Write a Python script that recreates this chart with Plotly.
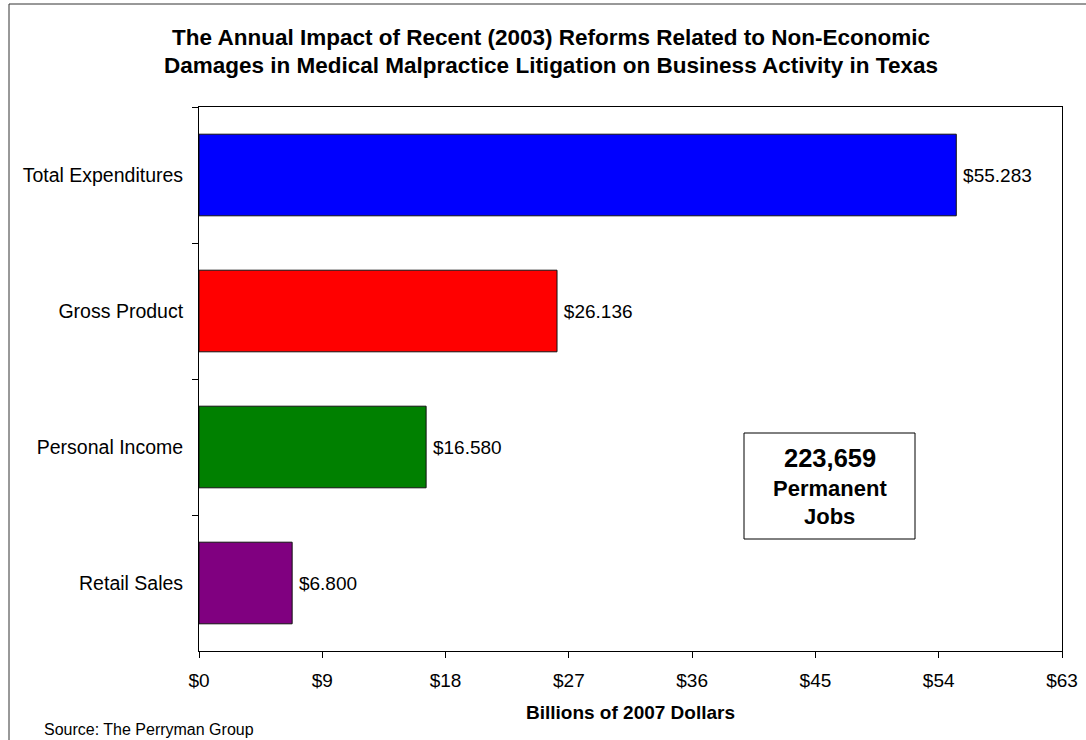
import plotly.graph_objects as go

# Business activity gains (billions of 2007 dollars)
categories = ["Total Expenditures", "Gross Product", "Personal Income", "Retail Sales"]
values = [55.283, 26.136, 16.580, 6.800]
bar_colors = ["#0000FF", "#FF0000", "#008000", "#800080"]
x_ticks = [0, 9, 18, 27, 36, 45, 54, 63]
x_tick_labels = [f"${v}" for v in x_ticks]
jobs = "223,659"

FONT = "Arial, Liberation Sans, sans-serif"

fig = go.Figure(
    go.Bar(
        y=categories,
        x=values,
        orientation="h",
        marker=dict(color=bar_colors, line=dict(color="#111111", width=1)),
        width=0.6,
        texttemplate="\u2009$%{x:.3f}",
        textposition="outside",
        textfont=dict(family=FONT, size=19, color="#000000"),
        cliponaxis=False,
        hoverinfo="skip",
    )
)

W, H = 1086, 740
L, R, T, B = 199, 24, 107, 89
pw, ph = W - L - R, H - T - B


def px_x(px):
    return (px - L) / pw


def px_y(py):
    return (H - B - py) / ph


fig.update_layout(
    width=W,
    height=H,
    margin=dict(l=L, r=R, t=T, b=B, pad=0, autoexpand=False),
    paper_bgcolor="#FFFFFF",
    plot_bgcolor="#FFFFFF",
    font=dict(family=FONT, size=19, color="#000000"),
    showlegend=False,
    xaxis=dict(
        range=[0, 63],
        tickmode="array",
        tickvals=x_ticks,
        ticktext=x_tick_labels,
        ticks="outside",
        ticklen=6,
        tickcolor="#000000",
        showline=True,
        linecolor="#000000",
        linewidth=1,
        mirror=True,
        showgrid=False,
        zeroline=False,
        automargin=False,
        tickfont=dict(size=19),
        ticklabelstandoff=6,
        title=dict(text="<b>Billions of 2007 Dollars</b>", font=dict(size=19), standoff=15),
    ),
    yaxis=dict(
        categoryorder="array",
        categoryarray=categories,
        autorange="reversed",
        tickson="boundaries",
        ticks="outside",
        ticklen=6,
        tickcolor="#000000",
        showline=True,
        linecolor="#000000",
        linewidth=1,
        mirror=True,
        showgrid=False,
        zeroline=False,
        automargin=False,
        tickfont=dict(size=19.5),
        ticklabelstandoff=11,
    ),
)

# Chart title (two lines)
title_lines = [
    "The Annual Impact of Recent (2003) Reforms Related to Non-Economic",
    "Damages in Medical Malpractice Litigation on Business Activity in Texas",
]
for line, py in zip(title_lines, [37, 65]):
    fig.add_annotation(
        text=f"<b>{line}</b>", xref="paper", yref="paper",
        x=px_x(551), y=px_y(py), xanchor="center", yanchor="middle",
        showarrow=False, font=dict(size=22.5),
    )

# Source note
fig.add_annotation(
    text="Source: The Perryman Group", xref="paper", yref="paper",
    x=px_x(42), y=px_y(729), xanchor="left", yanchor="middle",
    showarrow=False, font=dict(size=16),
)

# Jobs call-out box
fig.add_shape(
    type="rect", xref="paper", yref="paper",
    x0=px_x(744), x1=px_x(915), y0=px_y(539), y1=px_y(433),
    line=dict(color="#000000", width=1), fillcolor="#FFFFFF",
)
for txt, py, sz in [(jobs, 458, 25.5), ("Permanent", 488, 22), ("Jobs", 516, 22)]:
    fig.add_annotation(
        text=f"<b>{txt}</b>", xref="paper", yref="paper",
        x=px_x(829.5), y=px_y(py), xanchor="center", yanchor="middle",
        showarrow=False, font=dict(size=sz),
    )

# Outer chart frame
fig.add_shape(
    type="rect", xref="paper", yref="paper",
    x0=px_x(9), x1=px_x(1100), y0=px_y(760), y1=px_y(4),
    line=dict(color="#333333", width=1), fillcolor="rgba(0,0,0,0)",
    layer="below",
)

fig.write_html("out.html")
